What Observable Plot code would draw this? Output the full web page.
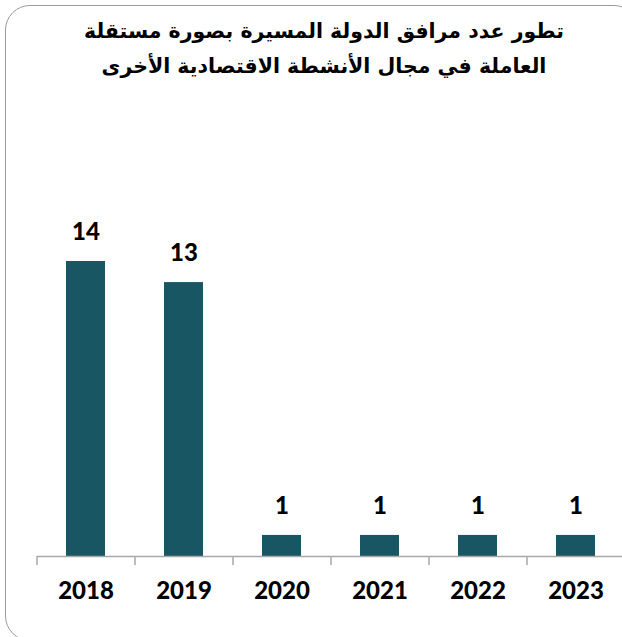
<!DOCTYPE html>
<html>
<head>
<meta charset="utf-8">
<script src="https://cdn.jsdelivr.net/npm/d3@7"></script>
<script src="https://cdn.jsdelivr.net/npm/@observablehq/plot@0.6"></script>
<style>
  html, body { margin: 0; padding: 0; background: #fff; }
  #wrap { position: relative; width: 622px; height: 637px; overflow: hidden; }
  #frame { position: absolute; left: 5px; top: 5px; width: 634px; height: 636px;
           border: 1.5px solid #9a9a9a; border-radius: 25px; box-sizing: border-box; }
  #title { position: absolute; left: 30px; width: 588px; top: 14px; text-align: center;
           direction: rtl; font-family: "DejaVu Sans", sans-serif; font-weight: bold;
           font-size: 20.5px; line-height: 35px; color: #000; }
  #chart { position: absolute; left: 0; top: 100px; }
</style>
</head>
<body>
<div id="wrap">
  <div id="frame"></div>
  <div id="title">تطور عدد مرافق الدولة المسيرة بصورة مستقلة<br>العاملة في مجال الأنشطة الاقتصادية الأخرى</div>
  <div id="chart"></div>
</div>
<script>
const years = ["2018", "2019", "2020", "2021", "2022", "2023"];
const counts = [14, 13, 1, 1, 1, 1];

const data = years.map((y, i) => ({year: y, count: counts[i]}));

const plot = Plot.plot({
  width: 622,
  height: 537,
  marginTop: 161,
  marginBottom: 81,
  marginLeft: 37,
  marginRight: 0,
  x: {domain: years, range: [37, 625], paddingInner: 0.6, paddingOuter: 0.3, label: null},
  y: {domain: [0, 14], axis: null},
  style: {fontFamily: "Lato, sans-serif", background: "transparent"},
  marks: [
    Plot.barY(data, {x: "year", y: "count", fill: "#185664"}),
    Plot.ruleY([0], {stroke: "#a8a8a8", strokeWidth: 1.5}),
    Plot.ruleX(years, {x: d => d, dx: -49, y1: 0, y2: 0, insetTop: 0, insetBottom: -9, stroke: "#a8a8a8", strokeWidth: 1.5}),
    Plot.text(data, {x: "year", y: "count", text: d => String(d.count), dy: -29,
      fontSize: 24, fontWeight: 900, fill: "#000", lineAnchor: "middle"}),
    Plot.axisX({tickSize: 0, tickPadding: 25, fontSize: 24, fontWeight: 900, fill: "#000", label: null})
  ]
});
document.getElementById("chart").appendChild(plot);
</script>
</body>
</html>
